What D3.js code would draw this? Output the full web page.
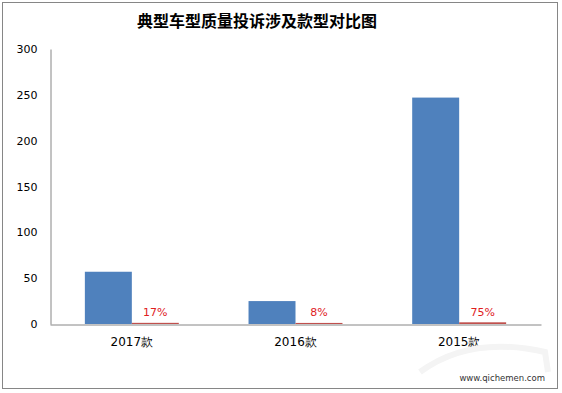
<!DOCTYPE html>
<html><head><meta charset="utf-8">
<script src="https://cdn.jsdelivr.net/npm/d3@7"></script>
<style>body{margin:0;background:#fff}</style>
</head><body><svg id="c" width="562" height="393"></svg>
<script>
const title = "典型车型质量投诉涉及款型对比图";
const categories = ["2017款", "2016款", "2015款"];
const complaints = [57, 25, 247];
const shares = [0.17, 0.08, 0.75];
const shareLabels = ["17%", "8%", "75%"];
const yTicks = [0, 50, 100, 150, 200, 250, 300];
const series = ["complaints", "shares"];

const svg = d3.select("#c");
const font = "'DejaVu Sans', Verdana, sans-serif";
svg.append("rect").attr("x", 2.5).attr("y", 2.5).attr("width", 555).attr("height", 386)
  .attr("fill", "#fff").attr("stroke", "#868686");

svg.append("text").attr("x", 257).attr("y", 27).attr("text-anchor", "middle")
  .attr("font-family", "'Noto Sans CJK SC', sans-serif").attr("font-weight", "bold")
  .attr("font-size", 16).attr("fill", "#000").text(title);

const y = d3.scaleLinear().domain([0, 300]).range([324, 49]);
const x0 = d3.scaleBand().domain(categories).range([50, 541]);
const bw = x0.bandwidth();
const x1 = d3.scaleBand().domain(series).range([bw * 0.213, bw * 0.787]);

// y axis
const yAxis = d3.axisLeft(y).tickValues(yTicks).tickSize(0).tickPadding(13);
const gy = svg.append("g").attr("transform", "translate(50.5,0)").call(yAxis);
gy.select(".domain").attr("stroke", "#868686");
gy.selectAll("text").attr("font-family", font).attr("font-size", 11).attr("fill", "#000");

const groups = svg.append("g").selectAll("g").data(categories).join("g")
  .attr("transform", d => `translate(${x0(d)},0)`);
groups.append("rect")
  .attr("x", x1("complaints")).attr("width", x1.bandwidth())
  .attr("y", (d, i) => y(complaints[i])).attr("height", (d, i) => y(0) - y(complaints[i]))
  .attr("fill", "#4f81bd");
groups.append("rect")
  .attr("x", x1("shares")).attr("width", x1.bandwidth())
  .attr("y", (d, i) => y(shares[i]) - 1).attr("height", (d, i) => y(0) - y(shares[i]) + 1)
  .attr("fill", "#c0504d");
groups.append("text")
  .attr("x", x1("shares") + x1.bandwidth() / 2).attr("y", 316)
  .attr("text-anchor", "middle").attr("font-family", font).attr("font-size", 11)
  .attr("fill", "#e0201e").text((d, i) => shareLabels[i]);

// x axis
const xAxis = d3.axisBottom(x0).tickSize(0).tickPadding(13);
const gx = svg.append("g").attr("transform", "translate(0,324.5)").call(xAxis);
gx.select(".domain").attr("stroke", "#868686");
gx.selectAll("text").attr("font-family", font).attr("font-size", 12).attr("fill", "#000");

// watermark
svg.append("path").attr("d", "M420,372 Q470,335 545,352 L548,372")
  .attr("fill", "none").attr("stroke", "#f4f4f4").attr("stroke-width", 6);
svg.append("text").attr("x", 545).attr("y", 381).attr("text-anchor", "end")
  .attr("font-family", font).attr("font-size", 8.5).attr("fill", "#333")
  .text("www.qichemen.com");
</script></body></html>
